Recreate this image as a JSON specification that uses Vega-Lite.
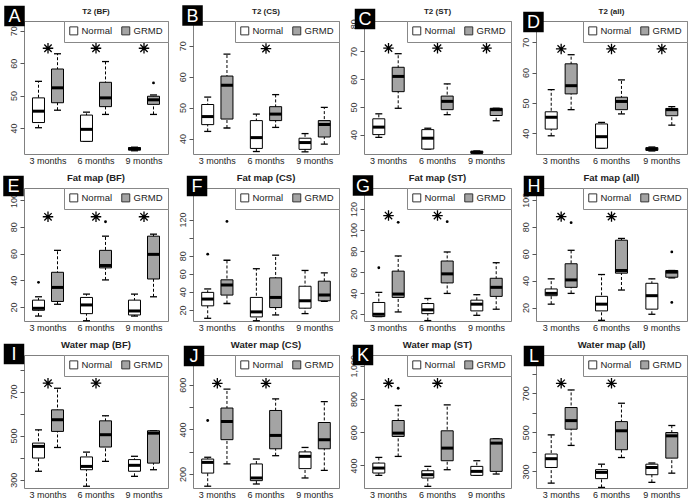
{
"$schema": "https://vega.github.io/schema/vega-lite/v6.json",
"padding": {"left": 2, "top": 4, "right": 2, "bottom": 2},
"bounds": "flush",
"columns": 4,
"spacing": {"row": 34, "column": 25},
"resolve": {"scale": {"fill": "independent", "xOffset": "independent", "x": "independent", "y": "independent"}},
"config": {
  "font": "Liberation Sans",
  "view": {"stroke": "#808080", "strokeWidth": 1},
  "axis": {"labelColor": "#333", "tickColor": "#555", "domain": false, "grid": false},
  "axisY": {"labelAngle": 270, "labelAlign": "center", "labelBaseline": "bottom", "tickSize": 4, "labelPadding": 2, "labelFontSize": 9, "labelOverlap": false, "labelFlush": false, "tickCount": 20},
  "axisX": {"ticks": false, "labelAngle": 0, "labelPadding": 2, "labelFontSize": 9, "labelColor": "#222", "labelOverlap": false},
  "legend": {"orient": "top-right", "offset": 0, "direction": "horizontal", "padding": 5, "fillColor": "white", "strokeColor": "#888", "symbolType": "square", "symbolSize": 64, "symbolStrokeColor": "#333", "symbolStrokeWidth": 1, "labelFontSize": 9.5, "columnPadding": 6, "labelOffset": 3, "labelColor": "#222"}
},
"datasets": {
"boxes": [
{"panel":"A","month":"3 months","group":"Normal","min":40.1,"q1":41.7,"med":45.2,"q3":49.3,"max":54.4},
{"panel":"A","month":"3 months","group":"GRMD","min":45.5,"q1":47.8,"med":52.4,"q3":58.2,"max":62.9},
{"panel":"A","month":"6 months","group":"Normal","min":35.9,"q1":35.9,"med":39.6,"q3":44.0,"max":44.9},
{"panel":"A","month":"6 months","group":"GRMD","min":44.2,"q1":46.6,"med":49.3,"q3":54.1,"max":60.5},
{"panel":"A","month":"9 months","group":"Normal","min":33.0,"q1":33.2,"med":33.6,"q3":34.0,"max":34.1},
{"panel":"A","month":"9 months","group":"GRMD","min":44.2,"q1":47.3,"med":48.7,"q3":49.8,"max":50.2},
{"panel":"B","month":"3 months","group":"Normal","min":42.3,"q1":44.5,"med":47.1,"q3":51.0,"max":53.4},
{"panel":"B","month":"3 months","group":"GRMD","min":43.4,"q1":46.3,"med":57.2,"q3":60.2,"max":67.3},
{"panel":"B","month":"6 months","group":"Normal","min":35.8,"q1":36.8,"med":40.3,"q3":45.8,"max":47.9},
{"panel":"B","month":"6 months","group":"GRMD","min":43.6,"q1":45.8,"med":47.9,"q3":50.3,"max":54.2},
{"panel":"B","month":"9 months","group":"Normal","min":35.7,"q1":36.5,"med":38.7,"q3":40.1,"max":41.6},
{"panel":"B","month":"9 months","group":"GRMD","min":38.2,"q1":40.5,"med":44.5,"q3":45.8,"max":50.1},
{"panel":"C","month":"3 months","group":"Normal","min":39.0,"q1":40.0,"med":42.7,"q3":45.7,"max":47.5},
{"panel":"C","month":"3 months","group":"GRMD","min":49.5,"q1":55.5,"med":61.0,"q3":64.3,"max":69.2},
{"panel":"C","month":"6 months","group":"Normal","min":34.8,"q1":34.8,"med":38.7,"q3":41.8,"max":42.3},
{"panel":"C","month":"6 months","group":"GRMD","min":47.2,"q1":49.0,"med":52.0,"q3":53.9,"max":58.3},
{"panel":"C","month":"9 months","group":"Normal","min":33.2,"q1":33.3,"med":33.6,"q3":34.0,"max":34.1},
{"panel":"C","month":"9 months","group":"GRMD","min":45.0,"q1":46.9,"med":49.0,"q3":49.5,"max":49.5},
{"panel":"D","month":"3 months","group":"Normal","min":39.2,"q1":41.4,"med":45.3,"q3":47.1,"max":54.4},
{"panel":"D","month":"3 months","group":"GRMD","min":47.8,"q1":53.0,"med":55.7,"q3":62.9,"max":65.9},
{"panel":"D","month":"6 months","group":"Normal","min":35.1,"q1":35.1,"med":38.9,"q3":43.1,"max":43.6},
{"panel":"D","month":"6 months","group":"GRMD","min":46.4,"q1":47.8,"med":50.5,"q3":51.9,"max":57.6},
{"panel":"D","month":"9 months","group":"Normal","min":34.2,"q1":34.4,"med":34.8,"q3":35.3,"max":35.5},
{"panel":"D","month":"9 months","group":"GRMD","min":42.7,"q1":45.8,"med":47.8,"q3":48.2,"max":48.8},
{"panel":"E","month":"3 months","group":"Normal","min":13.3,"q1":17.6,"med":19.1,"q3":25.2,"max":27.7},
{"panel":"E","month":"3 months","group":"GRMD","min":22.1,"q1":24.2,"med":34.7,"q3":46.0,"max":62.4},
{"panel":"E","month":"6 months","group":"Normal","min":9.8,"q1":15.1,"med":21.6,"q3":27.2,"max":29.7},
{"panel":"E","month":"6 months","group":"GRMD","min":40.3,"q1":49.3,"med":51.1,"q3":62.4,"max":73.0},
{"panel":"E","month":"9 months","group":"Normal","min":13.3,"q1":14.1,"med":17.1,"q3":25.2,"max":29.7},
{"panel":"E","month":"9 months","group":"GRMD","min":27.7,"q1":41.0,"med":59.4,"q3":73.0,"max":74.5},
{"panel":"F","month":"3 months","group":"Normal","min":10.7,"q1":24.5,"med":32.0,"q3":39.4,"max":43.2},
{"panel":"F","month":"3 months","group":"GRMD","min":27.1,"q1":36.4,"med":47.7,"q3":53.3,"max":75.0},
{"panel":"F","month":"6 months","group":"Normal","min":8.0,"q1":12.2,"med":17.8,"q3":33.8,"max":65.6},
{"panel":"F","month":"6 months","group":"GRMD","min":14.4,"q1":22.6,"med":33.8,"q3":55.5,"max":80.6},
{"panel":"F","month":"9 months","group":"Normal","min":15.9,"q1":21.9,"med":30.1,"q3":46.2,"max":63.7},
{"panel":"F","month":"9 months","group":"GRMD","min":29.5,"q1":30.1,"med":36.4,"q3":51.8,"max":61.1},
{"panel":"G","month":"3 months","group":"Normal","min":17.8,"q1":17.8,"med":20.0,"q3":31.2,"max":40.8},
{"panel":"G","month":"3 months","group":"GRMD","min":22.2,"q1":36.0,"med":39.2,"q3":61.0,"max":75.4},
{"panel":"G","month":"6 months","group":"Normal","min":14.0,"q1":20.6,"med":24.2,"q3":30.2,"max":35.0},
{"panel":"G","month":"6 months","group":"GRMD","min":39.8,"q1":49.8,"med":58.4,"q3":70.6,"max":79.2},
{"panel":"G","month":"9 months","group":"Normal","min":19.0,"q1":23.2,"med":29.6,"q3":33.4,"max":38.6},
{"panel":"G","month":"9 months","group":"GRMD","min":24.8,"q1":37.0,"med":45.6,"q3":54.2,"max":69.0},
{"panel":"H","month":"3 months","group":"Normal","min":22.5,"q1":28.8,"med":30.5,"q3":33.8,"max":41.3},
{"panel":"H","month":"3 months","group":"GRMD","min":30.5,"q1":35.0,"med":40.5,"q3":52.5,"max":62.5},
{"panel":"H","month":"6 months","group":"Normal","min":10.5,"q1":17.5,"med":22.5,"q3":28.3,"max":44.5},
{"panel":"H","month":"6 months","group":"GRMD","min":33.0,"q1":45.5,"med":47.5,"q3":70.0,"max":71.3},
{"panel":"H","month":"9 months","group":"Normal","min":15.0,"q1":18.8,"med":28.8,"q3":38.0,"max":41.3},
{"panel":"H","month":"9 months","group":"GRMD","min":42.0,"q1":42.5,"med":46.3,"q3":47.5,"max":47.5},
{"panel":"I","month":"3 months","group":"Normal","min":338,"q1":398,"med":451,"q3":466,"max":526},
{"panel":"I","month":"3 months","group":"GRMD","min":446,"q1":519,"med":572,"q3":617,"max":715},
{"panel":"I","month":"6 months","group":"Normal","min":270,"q1":345,"med":360,"q3":403,"max":425},
{"panel":"I","month":"6 months","group":"GRMD","min":383,"q1":448,"med":504,"q3":567,"max":590},
{"panel":"I","month":"9 months","group":"Normal","min":315,"q1":338,"med":365,"q3":391,"max":406},
{"panel":"I","month":"9 months","group":"GRMD","min":345,"q1":375,"med":511,"q3":522,"max":522},
{"panel":"J","month":"3 months","group":"Normal","min":145,"q1":204,"med":252,"q3":267,"max":275},
{"panel":"J","month":"3 months","group":"GRMD","min":245,"q1":354,"med":436,"q3":496,"max":581},
{"panel":"J","month":"6 months","group":"Normal","min":155,"q1":170,"med":182,"q3":245,"max":267},
{"panel":"J","month":"6 months","group":"GRMD","min":282,"q1":313,"med":373,"q3":485,"max":537},
{"panel":"J","month":"9 months","group":"Normal","min":182,"q1":224,"med":279,"q3":299,"max":319},
{"panel":"J","month":"9 months","group":"GRMD","min":216,"q1":313,"med":354,"q3":431,"max":525},
{"panel":"K","month":"3 months","group":"Normal","min":340,"q1":354,"med":384,"q3":414,"max":448},
{"panel":"K","month":"3 months","group":"GRMD","min":454,"q1":574,"med":594,"q3":670,"max":760},
{"panel":"K","month":"6 months","group":"Normal","min":274,"q1":324,"med":344,"q3":368,"max":394},
{"panel":"K","month":"6 months","group":"GRMD","min":374,"q1":428,"med":504,"q3":608,"max":764},
{"panel":"K","month":"9 months","group":"Normal","min":340,"q1":340,"med":364,"q3":394,"max":428},
{"panel":"K","month":"9 months","group":"GRMD","min":348,"q1":364,"med":534,"q3":560,"max":560},
{"panel":"L","month":"3 months","group":"Normal","min":240,"q1":320,"med":365,"q3":389,"max":487},
{"panel":"L","month":"3 months","group":"GRMD","min":433,"q1":516,"med":560,"q3":627,"max":717},
{"panel":"L","month":"6 months","group":"Normal","min":218,"q1":263,"med":295,"q3":309,"max":337},
{"panel":"L","month":"6 months","group":"GRMD","min":371,"q1":411,"med":508,"q3":555,"max":649},
{"panel":"L","month":"9 months","group":"Normal","min":244,"q1":283,"med":320,"q3":337,"max":343},
{"panel":"L","month":"9 months","group":"GRMD","min":291,"q1":368,"med":482,"q3":499,"max":535}
],
"outliers": [
{"panel":"A","month":"9 months","group":"GRMD","v":53.9},
{"panel":"E","month":"3 months","group":"Normal","v":38.5},
{"panel":"E","month":"6 months","group":"GRMD","v":83.8},
{"panel":"F","month":"3 months","group":"Normal","v":81.7},
{"panel":"F","month":"3 months","group":"GRMD","v":118},
{"panel":"G","month":"3 months","group":"Normal","v":64.2},
{"panel":"G","month":"3 months","group":"GRMD","v":107.4},
{"panel":"G","month":"6 months","group":"GRMD","v":108},
{"panel":"H","month":"3 months","group":"GRMD","v":83},
{"panel":"H","month":"9 months","group":"GRMD","v":61.3},
{"panel":"H","month":"9 months","group":"GRMD","v":23.8},
{"panel":"J","month":"3 months","group":"Normal","v":440},
{"panel":"K","month":"3 months","group":"GRMD","v":864}
],
"stars": [
{"panel":"A","month":"3 months","v":64.6},{"panel":"A","month":"6 months","v":64.6},{"panel":"A","month":"9 months","v":64.6},
{"panel":"B","month":"6 months","v":69.1},
{"panel":"C","month":"3 months","v":71.2},{"panel":"C","month":"6 months","v":71.2},{"panel":"C","month":"9 months","v":71.2},
{"panel":"D","month":"3 months","v":67.8},{"panel":"D","month":"6 months","v":67.8},{"panel":"D","month":"9 months","v":67.8},
{"panel":"E","month":"3 months","v":87.5},{"panel":"E","month":"6 months","v":87.5},{"panel":"E","month":"9 months","v":87.5},
{"panel":"G","month":"3 months","v":113.8},{"panel":"G","month":"6 months","v":113.8},
{"panel":"H","month":"3 months","v":87.5},{"panel":"H","month":"6 months","v":87.5},
{"panel":"I","month":"3 months","v":738},{"panel":"I","month":"6 months","v":738},
{"panel":"J","month":"3 months","v":607},{"panel":"J","month":"6 months","v":607},
{"panel":"K","month":"3 months","v":894},{"panel":"K","month":"6 months","v":894},
{"panel":"L","month":"3 months","v":751},{"panel":"L","month":"6 months","v":751}
]
},
"concat": [
{"width":144,"height":133,
 "data":{"name":"boxes"},"transform":[{"filter":"datum.panel == 'A'"}],
 "encoding":{"x":{"field":"month","type":"ordinal","title":null,"scale":{"domain":["3 months","6 months","9 months"],"paddingInner":0,"paddingOuter":0}}},
 "layer":[
  {"mark":{"type":"rule","strokeDash":[3,2],"color":"black"},"encoding":{"xOffset":{"field":"group","type":"nominal","scale":{"domain":["Normal","GRMD"],"paddingInner":0,"paddingOuter":0.263}},"y":{"field":"min","type":"quantitative","title":null,"scale":{"domain":[32,73],"nice":false,"zero":false},"axis":{"values":[40,50,60,70],"tickCount":20,"labelOverlap":false}},"y2":{"field":"max"}}},
  {"mark":{"type":"tick","size":7,"thickness":1.3,"color":"black","opacity":1},"encoding":{"xOffset":{"field":"group","type":"nominal"},"y":{"field":"min","type":"quantitative","title":null}}},
  {"mark":{"type":"tick","size":7,"thickness":1.3,"color":"black","opacity":1},"encoding":{"xOffset":{"field":"group","type":"nominal"},"y":{"field":"max","type":"quantitative","title":null}}},
  {"mark":{"type":"bar","width":12,"stroke":"black","strokeWidth":1},"encoding":{"xOffset":{"field":"group","type":"nominal"},"y":{"field":"q1","type":"quantitative","title":null},"y2":{"field":"q3"},"fill":{"field":"group","type":"nominal","title":null,"scale":{"domain":["Normal","GRMD"],"range":["white","#a4a4a4"]},"legend":{"title":null}}}},
  {"mark":{"type":"tick","size":12,"thickness":3,"color":"black","opacity":1},"encoding":{"xOffset":{"field":"group","type":"nominal"},"y":{"field":"med","type":"quantitative","title":null}}},
  {"data":{"name":"outliers"},"transform":[{"filter":"datum.panel == 'A'"}],"mark":{"type":"point","filled":true,"size":8,"color":"black","opacity":1},"encoding":{"xOffset":{"field":"group","type":"nominal"},"y":{"field":"v","type":"quantitative","title":null}}},
  {"data":{"name":"stars"},"transform":[{"filter":"datum.panel == 'A'"}],"mark":{"type":"point","shape":"M-1,0L1,0M0,-1L0,1M-0.7,-0.7L0.7,0.7M-0.7,0.7L0.7,-0.7","filled":false,"size":110,"stroke":"black","strokeWidth":1.3,"opacity":1},"encoding":{"y":{"field":"v","type":"quantitative","title":null}}},
  {"data":{"values":[{"t":"T2 (BF)"}]},"mark":{"type":"text","fontWeight":"bold","fontSize":8,"color":"#222","baseline":"middle","yOffset":-9},"encoding":{"x":{"datum":"6 months","type":"ordinal"},"y":{"datum":73,"type":"quantitative"},"text":{"field":"t"}}},
  {"data":{"values":[{"letter":"A"}]},"mark":{"type":"point","shape":"square","size":420,"filled":true,"color":"black","opacity":1,"xOffset":-33.5,"yOffset":-5},"encoding":{"x":{"datum":"3 months","type":"ordinal"},"y":{"datum":73,"type":"quantitative"}}},
  {"data":{"values":[{"letter":"A"}]},"mark":{"type":"text","color":"white","fontSize":18,"align":"center","baseline":"middle","xOffset":-33.5,"yOffset":-4},"encoding":{"x":{"datum":"3 months","type":"ordinal"},"y":{"datum":73,"type":"quantitative"},"text":{"field":"letter"}}}
 ]},
{"width":146,"height":133,
 "data":{"name":"boxes"},"transform":[{"filter":"datum.panel == 'B'"}],
 "encoding":{"x":{"field":"month","type":"ordinal","title":null,"scale":{"domain":["3 months","6 months","9 months"],"paddingInner":0,"paddingOuter":0}}},
 "layer":[
  {"mark":{"type":"rule","strokeDash":[3,2],"color":"black"},"encoding":{"xOffset":{"field":"group","type":"nominal","scale":{"domain":["Normal","GRMD"],"paddingInner":0,"paddingOuter":0.263}},"y":{"field":"min","type":"quantitative","title":null,"scale":{"domain":[35,78],"nice":false,"zero":false},"axis":{"values":[40,50,60,70],"tickCount":20,"labelOverlap":false}},"y2":{"field":"max"}}},
  {"mark":{"type":"tick","size":7,"thickness":1.3,"color":"black","opacity":1},"encoding":{"xOffset":{"field":"group","type":"nominal"},"y":{"field":"min","type":"quantitative","title":null}}},
  {"mark":{"type":"tick","size":7,"thickness":1.3,"color":"black","opacity":1},"encoding":{"xOffset":{"field":"group","type":"nominal"},"y":{"field":"max","type":"quantitative","title":null}}},
  {"mark":{"type":"bar","width":12,"stroke":"black","strokeWidth":1},"encoding":{"xOffset":{"field":"group","type":"nominal"},"y":{"field":"q1","type":"quantitative","title":null},"y2":{"field":"q3"},"fill":{"field":"group","type":"nominal","title":null,"scale":{"domain":["Normal","GRMD"],"range":["white","#a4a4a4"]},"legend":{"title":null}}}},
  {"mark":{"type":"tick","size":12,"thickness":3,"color":"black","opacity":1},"encoding":{"xOffset":{"field":"group","type":"nominal"},"y":{"field":"med","type":"quantitative","title":null}}},
  {"data":{"name":"outliers"},"transform":[{"filter":"datum.panel == 'B'"}],"mark":{"type":"point","filled":true,"size":8,"color":"black","opacity":1},"encoding":{"xOffset":{"field":"group","type":"nominal"},"y":{"field":"v","type":"quantitative","title":null}}},
  {"data":{"name":"stars"},"transform":[{"filter":"datum.panel == 'B'"}],"mark":{"type":"point","shape":"M-1,0L1,0M0,-1L0,1M-0.7,-0.7L0.7,0.7M-0.7,0.7L0.7,-0.7","filled":false,"size":110,"stroke":"black","strokeWidth":1.3,"opacity":1},"encoding":{"y":{"field":"v","type":"quantitative","title":null}}},
  {"data":{"values":[{"t":"T2 (CS)"}]},"mark":{"type":"text","fontWeight":"bold","fontSize":8,"color":"#222","baseline":"middle","yOffset":-9},"encoding":{"x":{"datum":"6 months","type":"ordinal"},"y":{"datum":78,"type":"quantitative"},"text":{"field":"t"}}},
  {"data":{"values":[{"letter":"B"}]},"mark":{"type":"point","shape":"square","size":420,"filled":true,"color":"black","opacity":1,"xOffset":-24.8,"yOffset":-5.5},"encoding":{"x":{"datum":"3 months","type":"ordinal"},"y":{"datum":78,"type":"quantitative"}}},
  {"data":{"values":[{"letter":"B"}]},"mark":{"type":"text","color":"white","fontSize":18,"align":"center","baseline":"middle","xOffset":-24.8,"yOffset":-4.5},"encoding":{"x":{"datum":"3 months","type":"ordinal"},"y":{"datum":78,"type":"quantitative"},"text":{"field":"letter"}}}
 ]},
{"width":147,"height":133,
 "data":{"name":"boxes"},"transform":[{"filter":"datum.panel == 'C'"}],
 "encoding":{"x":{"field":"month","type":"ordinal","title":null,"scale":{"domain":["3 months","6 months","9 months"],"paddingInner":0,"paddingOuter":0}}},
 "layer":[
  {"mark":{"type":"rule","strokeDash":[3,2],"color":"black"},"encoding":{"xOffset":{"field":"group","type":"nominal","scale":{"domain":["Normal","GRMD"],"paddingInner":0,"paddingOuter":0.263}},"y":{"field":"min","type":"quantitative","title":null,"scale":{"domain":[33,81],"nice":false,"zero":false},"axis":{"values":[40,50,60,70,80],"tickCount":20,"labelOverlap":false}},"y2":{"field":"max"}}},
  {"mark":{"type":"tick","size":7,"thickness":1.3,"color":"black","opacity":1},"encoding":{"xOffset":{"field":"group","type":"nominal"},"y":{"field":"min","type":"quantitative","title":null}}},
  {"mark":{"type":"tick","size":7,"thickness":1.3,"color":"black","opacity":1},"encoding":{"xOffset":{"field":"group","type":"nominal"},"y":{"field":"max","type":"quantitative","title":null}}},
  {"mark":{"type":"bar","width":12,"stroke":"black","strokeWidth":1},"encoding":{"xOffset":{"field":"group","type":"nominal"},"y":{"field":"q1","type":"quantitative","title":null},"y2":{"field":"q3"},"fill":{"field":"group","type":"nominal","title":null,"scale":{"domain":["Normal","GRMD"],"range":["white","#a4a4a4"]},"legend":{"title":null}}}},
  {"mark":{"type":"tick","size":12,"thickness":3,"color":"black","opacity":1},"encoding":{"xOffset":{"field":"group","type":"nominal"},"y":{"field":"med","type":"quantitative","title":null}}},
  {"data":{"name":"outliers"},"transform":[{"filter":"datum.panel == 'C'"}],"mark":{"type":"point","filled":true,"size":8,"color":"black","opacity":1},"encoding":{"xOffset":{"field":"group","type":"nominal"},"y":{"field":"v","type":"quantitative","title":null}}},
  {"data":{"name":"stars"},"transform":[{"filter":"datum.panel == 'C'"}],"mark":{"type":"point","shape":"M-1,0L1,0M0,-1L0,1M-0.7,-0.7L0.7,0.7M-0.7,0.7L0.7,-0.7","filled":false,"size":110,"stroke":"black","strokeWidth":1.3,"opacity":1},"encoding":{"y":{"field":"v","type":"quantitative","title":null}}},
  {"data":{"values":[{"t":"T2 (ST)"}]},"mark":{"type":"text","fontWeight":"bold","fontSize":8,"color":"#222","baseline":"middle","yOffset":-9},"encoding":{"x":{"datum":"6 months","type":"ordinal"},"y":{"datum":81,"type":"quantitative"},"text":{"field":"t"}}},
  {"data":{"values":[{"letter":"C"}]},"mark":{"type":"point","shape":"square","size":420,"filled":true,"color":"black","opacity":1,"xOffset":-23.5,"yOffset":-2},"encoding":{"x":{"datum":"3 months","type":"ordinal"},"y":{"datum":81,"type":"quantitative"}}},
  {"data":{"values":[{"letter":"C"}]},"mark":{"type":"text","color":"white","fontSize":18,"align":"center","baseline":"middle","xOffset":-23.5,"yOffset":-1},"encoding":{"x":{"datum":"3 months","type":"ordinal"},"y":{"datum":81,"type":"quantitative"},"text":{"field":"letter"}}}
 ]},
{"width":151,"height":133,
 "data":{"name":"boxes"},"transform":[{"filter":"datum.panel == 'D'"}],
 "encoding":{"x":{"field":"month","type":"ordinal","title":null,"scale":{"domain":["3 months","6 months","9 months"],"paddingInner":0,"paddingOuter":0}}},
 "layer":[
  {"mark":{"type":"rule","strokeDash":[3,2],"color":"black"},"encoding":{"xOffset":{"field":"group","type":"nominal","scale":{"domain":["Normal","GRMD"],"paddingInner":0,"paddingOuter":0.263}},"y":{"field":"min","type":"quantitative","title":null,"scale":{"domain":[33.2,77],"nice":false,"zero":false},"axis":{"values":[40,50,60,70],"tickCount":20,"labelOverlap":false}},"y2":{"field":"max"}}},
  {"mark":{"type":"tick","size":7,"thickness":1.3,"color":"black","opacity":1},"encoding":{"xOffset":{"field":"group","type":"nominal"},"y":{"field":"min","type":"quantitative","title":null}}},
  {"mark":{"type":"tick","size":7,"thickness":1.3,"color":"black","opacity":1},"encoding":{"xOffset":{"field":"group","type":"nominal"},"y":{"field":"max","type":"quantitative","title":null}}},
  {"mark":{"type":"bar","width":12,"stroke":"black","strokeWidth":1},"encoding":{"xOffset":{"field":"group","type":"nominal"},"y":{"field":"q1","type":"quantitative","title":null},"y2":{"field":"q3"},"fill":{"field":"group","type":"nominal","title":null,"scale":{"domain":["Normal","GRMD"],"range":["white","#a4a4a4"]},"legend":{"title":null}}}},
  {"mark":{"type":"tick","size":12,"thickness":3,"color":"black","opacity":1},"encoding":{"xOffset":{"field":"group","type":"nominal"},"y":{"field":"med","type":"quantitative","title":null}}},
  {"data":{"name":"outliers"},"transform":[{"filter":"datum.panel == 'D'"}],"mark":{"type":"point","filled":true,"size":8,"color":"black","opacity":1},"encoding":{"xOffset":{"field":"group","type":"nominal"},"y":{"field":"v","type":"quantitative","title":null}}},
  {"data":{"name":"stars"},"transform":[{"filter":"datum.panel == 'D'"}],"mark":{"type":"point","shape":"M-1,0L1,0M0,-1L0,1M-0.7,-0.7L0.7,0.7M-0.7,0.7L0.7,-0.7","filled":false,"size":110,"stroke":"black","strokeWidth":1.3,"opacity":1},"encoding":{"y":{"field":"v","type":"quantitative","title":null}}},
  {"data":{"values":[{"t":"T2 (all)"}]},"mark":{"type":"text","fontWeight":"bold","fontSize":8,"color":"#222","baseline":"middle","yOffset":-9},"encoding":{"x":{"datum":"6 months","type":"ordinal"},"y":{"datum":77,"type":"quantitative"},"text":{"field":"t"}}},
  {"data":{"values":[{"letter":"D"}]},"mark":{"type":"point","shape":"square","size":420,"filled":true,"color":"black","opacity":1,"xOffset":-27.7,"yOffset":1},"encoding":{"x":{"datum":"3 months","type":"ordinal"},"y":{"datum":77,"type":"quantitative"}}},
  {"data":{"values":[{"letter":"D"}]},"mark":{"type":"text","color":"white","fontSize":18,"align":"center","baseline":"middle","xOffset":-27.7,"yOffset":2},"encoding":{"x":{"datum":"3 months","type":"ordinal"},"y":{"datum":77,"type":"quantitative"},"text":{"field":"letter"}}}
 ]},
{"width":144,"height":133,
 "data":{"name":"boxes"},"transform":[{"filter":"datum.panel == 'E'"}],
 "encoding":{"x":{"field":"month","type":"ordinal","title":null,"scale":{"domain":["3 months","6 months","9 months"],"paddingInner":0,"paddingOuter":0}}},
 "layer":[
  {"mark":{"type":"rule","strokeDash":[3,2],"color":"black"},"encoding":{"xOffset":{"field":"group","type":"nominal","scale":{"domain":["Normal","GRMD"],"paddingInner":0,"paddingOuter":0.263}},"y":{"field":"min","type":"quantitative","title":null,"scale":{"domain":[9.6,109],"nice":false,"zero":false},"axis":{"values":[20,40,60,80,100],"tickCount":20,"labelOverlap":false}},"y2":{"field":"max"}}},
  {"mark":{"type":"tick","size":7,"thickness":1.3,"color":"black","opacity":1},"encoding":{"xOffset":{"field":"group","type":"nominal"},"y":{"field":"min","type":"quantitative","title":null}}},
  {"mark":{"type":"tick","size":7,"thickness":1.3,"color":"black","opacity":1},"encoding":{"xOffset":{"field":"group","type":"nominal"},"y":{"field":"max","type":"quantitative","title":null}}},
  {"mark":{"type":"bar","width":12,"stroke":"black","strokeWidth":1},"encoding":{"xOffset":{"field":"group","type":"nominal"},"y":{"field":"q1","type":"quantitative","title":null},"y2":{"field":"q3"},"fill":{"field":"group","type":"nominal","title":null,"scale":{"domain":["Normal","GRMD"],"range":["white","#a4a4a4"]},"legend":{"title":null}}}},
  {"mark":{"type":"tick","size":12,"thickness":3,"color":"black","opacity":1},"encoding":{"xOffset":{"field":"group","type":"nominal"},"y":{"field":"med","type":"quantitative","title":null}}},
  {"data":{"name":"outliers"},"transform":[{"filter":"datum.panel == 'E'"}],"mark":{"type":"point","filled":true,"size":8,"color":"black","opacity":1},"encoding":{"xOffset":{"field":"group","type":"nominal"},"y":{"field":"v","type":"quantitative","title":null}}},
  {"data":{"name":"stars"},"transform":[{"filter":"datum.panel == 'E'"}],"mark":{"type":"point","shape":"M-1,0L1,0M0,-1L0,1M-0.7,-0.7L0.7,0.7M-0.7,0.7L0.7,-0.7","filled":false,"size":110,"stroke":"black","strokeWidth":1.3,"opacity":1},"encoding":{"y":{"field":"v","type":"quantitative","title":null}}},
  {"data":{"values":[{"t":"Fat map (BF)"}]},"mark":{"type":"text","fontWeight":"bold","fontSize":9.5,"color":"#222","baseline":"middle","yOffset":-10},"encoding":{"x":{"datum":"6 months","type":"ordinal"},"y":{"datum":109,"type":"quantitative"},"text":{"field":"t"}}},
  {"data":{"values":[{"letter":"E"}]},"mark":{"type":"point","shape":"square","size":420,"filled":true,"color":"black","opacity":1,"xOffset":-34.5,"yOffset":-2},"encoding":{"x":{"datum":"3 months","type":"ordinal"},"y":{"datum":109,"type":"quantitative"}}},
  {"data":{"values":[{"letter":"E"}]},"mark":{"type":"text","color":"white","fontSize":18,"align":"center","baseline":"middle","xOffset":-34.5,"yOffset":-1},"encoding":{"x":{"datum":"3 months","type":"ordinal"},"y":{"datum":109,"type":"quantitative"},"text":{"field":"letter"}}}
 ]},
{"width":146,"height":133,
 "data":{"name":"boxes"},"transform":[{"filter":"datum.panel == 'F'"}],
 "encoding":{"x":{"field":"month","type":"ordinal","title":null,"scale":{"domain":["3 months","6 months","9 months"],"paddingInner":0,"paddingOuter":0}}},
 "layer":[
  {"mark":{"type":"rule","strokeDash":[3,2],"color":"black"},"encoding":{"xOffset":{"field":"group","type":"nominal","scale":{"domain":["Normal","GRMD"],"paddingInner":0,"paddingOuter":0.263}},"y":{"field":"min","type":"quantitative","title":null,"scale":{"domain":[7.7,155],"nice":false,"zero":false},"axis":{"values":[20,40,60,80,100,120],"tickCount":20,"labelOverlap":false,"labelExpr":"datum.value == 100 ? '' : datum.label"}},"y2":{"field":"max"}}},
  {"mark":{"type":"tick","size":7,"thickness":1.3,"color":"black","opacity":1},"encoding":{"xOffset":{"field":"group","type":"nominal"},"y":{"field":"min","type":"quantitative","title":null}}},
  {"mark":{"type":"tick","size":7,"thickness":1.3,"color":"black","opacity":1},"encoding":{"xOffset":{"field":"group","type":"nominal"},"y":{"field":"max","type":"quantitative","title":null}}},
  {"mark":{"type":"bar","width":12,"stroke":"black","strokeWidth":1},"encoding":{"xOffset":{"field":"group","type":"nominal"},"y":{"field":"q1","type":"quantitative","title":null},"y2":{"field":"q3"},"fill":{"field":"group","type":"nominal","title":null,"scale":{"domain":["Normal","GRMD"],"range":["white","#a4a4a4"]},"legend":{"title":null}}}},
  {"mark":{"type":"tick","size":12,"thickness":3,"color":"black","opacity":1},"encoding":{"xOffset":{"field":"group","type":"nominal"},"y":{"field":"med","type":"quantitative","title":null}}},
  {"data":{"name":"outliers"},"transform":[{"filter":"datum.panel == 'F'"}],"mark":{"type":"point","filled":true,"size":8,"color":"black","opacity":1},"encoding":{"xOffset":{"field":"group","type":"nominal"},"y":{"field":"v","type":"quantitative","title":null}}},
  {"data":{"values":[{"t":"Fat map (CS)"}]},"mark":{"type":"text","fontWeight":"bold","fontSize":9.5,"color":"#222","baseline":"middle","yOffset":-10},"encoding":{"x":{"datum":"6 months","type":"ordinal"},"y":{"datum":155,"type":"quantitative"},"text":{"field":"t"}}},
  {"data":{"values":[{"letter":"F"}]},"mark":{"type":"point","shape":"square","size":420,"filled":true,"color":"black","opacity":1,"xOffset":-20.3,"yOffset":-2},"encoding":{"x":{"datum":"3 months","type":"ordinal"},"y":{"datum":155,"type":"quantitative"}}},
  {"data":{"values":[{"letter":"F"}]},"mark":{"type":"text","color":"white","fontSize":18,"align":"center","baseline":"middle","xOffset":-20.3,"yOffset":-1},"encoding":{"x":{"datum":"3 months","type":"ordinal"},"y":{"datum":155,"type":"quantitative"},"text":{"field":"letter"}}}
 ]},
{"width":147,"height":133,
 "data":{"name":"boxes"},"transform":[{"filter":"datum.panel == 'G'"}],
 "encoding":{"x":{"field":"month","type":"ordinal","title":null,"scale":{"domain":["3 months","6 months","9 months"],"paddingInner":0,"paddingOuter":0}}},
 "layer":[
  {"mark":{"type":"rule","strokeDash":[3,2],"color":"black"},"encoding":{"xOffset":{"field":"group","type":"nominal","scale":{"domain":["Normal","GRMD"],"paddingInner":0,"paddingOuter":0.263}},"y":{"field":"min","type":"quantitative","title":null,"scale":{"domain":[13.6,140],"nice":false,"zero":false},"axis":{"values":[20,40,60,80,100,120],"tickCount":20,"labelOverlap":false}},"y2":{"field":"max"}}},
  {"mark":{"type":"tick","size":7,"thickness":1.3,"color":"black","opacity":1},"encoding":{"xOffset":{"field":"group","type":"nominal"},"y":{"field":"min","type":"quantitative","title":null}}},
  {"mark":{"type":"tick","size":7,"thickness":1.3,"color":"black","opacity":1},"encoding":{"xOffset":{"field":"group","type":"nominal"},"y":{"field":"max","type":"quantitative","title":null}}},
  {"mark":{"type":"bar","width":12,"stroke":"black","strokeWidth":1},"encoding":{"xOffset":{"field":"group","type":"nominal"},"y":{"field":"q1","type":"quantitative","title":null},"y2":{"field":"q3"},"fill":{"field":"group","type":"nominal","title":null,"scale":{"domain":["Normal","GRMD"],"range":["white","#a4a4a4"]},"legend":{"title":null}}}},
  {"mark":{"type":"tick","size":12,"thickness":3,"color":"black","opacity":1},"encoding":{"xOffset":{"field":"group","type":"nominal"},"y":{"field":"med","type":"quantitative","title":null}}},
  {"data":{"name":"outliers"},"transform":[{"filter":"datum.panel == 'G'"}],"mark":{"type":"point","filled":true,"size":8,"color":"black","opacity":1},"encoding":{"xOffset":{"field":"group","type":"nominal"},"y":{"field":"v","type":"quantitative","title":null}}},
  {"data":{"name":"stars"},"transform":[{"filter":"datum.panel == 'G'"}],"mark":{"type":"point","shape":"M-1,0L1,0M0,-1L0,1M-0.7,-0.7L0.7,0.7M-0.7,0.7L0.7,-0.7","filled":false,"size":110,"stroke":"black","strokeWidth":1.3,"opacity":1},"encoding":{"y":{"field":"v","type":"quantitative","title":null}}},
  {"data":{"values":[{"t":"Fat map (ST)"}]},"mark":{"type":"text","fontWeight":"bold","fontSize":9.5,"color":"#222","baseline":"middle","yOffset":-10},"encoding":{"x":{"datum":"6 months","type":"ordinal"},"y":{"datum":140,"type":"quantitative"},"text":{"field":"t"}}},
  {"data":{"values":[{"letter":"G"}]},"mark":{"type":"point","shape":"square","size":420,"filled":true,"color":"black","opacity":1,"xOffset":-25.5,"yOffset":-2.5},"encoding":{"x":{"datum":"3 months","type":"ordinal"},"y":{"datum":140,"type":"quantitative"}}},
  {"data":{"values":[{"letter":"G"}]},"mark":{"type":"text","color":"white","fontSize":18,"align":"center","baseline":"middle","xOffset":-25.5,"yOffset":-1.5},"encoding":{"x":{"datum":"3 months","type":"ordinal"},"y":{"datum":140,"type":"quantitative"},"text":{"field":"letter"}}}
 ]},
{"width":151,"height":133,
 "data":{"name":"boxes"},"transform":[{"filter":"datum.panel == 'H'"}],
 "encoding":{"x":{"field":"month","type":"ordinal","title":null,"scale":{"domain":["3 months","6 months","9 months"],"paddingInner":0,"paddingOuter":0}}},
 "layer":[
  {"mark":{"type":"rule","strokeDash":[3,2],"color":"black"},"encoding":{"xOffset":{"field":"group","type":"nominal","scale":{"domain":["Normal","GRMD"],"paddingInner":0,"paddingOuter":0.263}},"y":{"field":"min","type":"quantitative","title":null,"scale":{"domain":[10,108.75],"nice":false,"zero":false},"axis":{"values":[20,40,60,80,100],"tickCount":20,"labelOverlap":false}},"y2":{"field":"max"}}},
  {"mark":{"type":"tick","size":7,"thickness":1.3,"color":"black","opacity":1},"encoding":{"xOffset":{"field":"group","type":"nominal"},"y":{"field":"min","type":"quantitative","title":null}}},
  {"mark":{"type":"tick","size":7,"thickness":1.3,"color":"black","opacity":1},"encoding":{"xOffset":{"field":"group","type":"nominal"},"y":{"field":"max","type":"quantitative","title":null}}},
  {"mark":{"type":"bar","width":12,"stroke":"black","strokeWidth":1},"encoding":{"xOffset":{"field":"group","type":"nominal"},"y":{"field":"q1","type":"quantitative","title":null},"y2":{"field":"q3"},"fill":{"field":"group","type":"nominal","title":null,"scale":{"domain":["Normal","GRMD"],"range":["white","#a4a4a4"]},"legend":{"title":null}}}},
  {"mark":{"type":"tick","size":12,"thickness":3,"color":"black","opacity":1},"encoding":{"xOffset":{"field":"group","type":"nominal"},"y":{"field":"med","type":"quantitative","title":null}}},
  {"data":{"name":"outliers"},"transform":[{"filter":"datum.panel == 'H'"}],"mark":{"type":"point","filled":true,"size":8,"color":"black","opacity":1},"encoding":{"xOffset":{"field":"group","type":"nominal"},"y":{"field":"v","type":"quantitative","title":null}}},
  {"data":{"name":"stars"},"transform":[{"filter":"datum.panel == 'H'"}],"mark":{"type":"point","shape":"M-1,0L1,0M0,-1L0,1M-0.7,-0.7L0.7,0.7M-0.7,0.7L0.7,-0.7","filled":false,"size":110,"stroke":"black","strokeWidth":1.3,"opacity":1},"encoding":{"y":{"field":"v","type":"quantitative","title":null}}},
  {"data":{"values":[{"t":"Fat map (all)"}]},"mark":{"type":"text","fontWeight":"bold","fontSize":9.5,"color":"#222","baseline":"middle","yOffset":-10},"encoding":{"x":{"datum":"6 months","type":"ordinal"},"y":{"datum":108.75,"type":"quantitative"},"text":{"field":"t"}}},
  {"data":{"values":[{"letter":"H"}]},"mark":{"type":"point","shape":"square","size":420,"filled":true,"color":"black","opacity":1,"xOffset":-27.2,"yOffset":-2},"encoding":{"x":{"datum":"3 months","type":"ordinal"},"y":{"datum":108.75,"type":"quantitative"}}},
  {"data":{"values":[{"letter":"H"}]},"mark":{"type":"text","color":"white","fontSize":18,"align":"center","baseline":"middle","xOffset":-27.2,"yOffset":-1},"encoding":{"x":{"datum":"3 months","type":"ordinal"},"y":{"datum":108.75,"type":"quantitative"},"text":{"field":"letter"}}}
 ]},
{"width":144,"height":133,
 "data":{"name":"boxes"},"transform":[{"filter":"datum.panel == 'I'"}],
 "encoding":{"x":{"field":"month","type":"ordinal","title":null,"scale":{"domain":["3 months","6 months","9 months"],"paddingInner":0,"paddingOuter":0}}},
 "layer":[
  {"mark":{"type":"rule","strokeDash":[3,2],"color":"black"},"encoding":{"xOffset":{"field":"group","type":"nominal","scale":{"domain":["Normal","GRMD"],"paddingInner":0,"paddingOuter":0.263}},"y":{"field":"min","type":"quantitative","title":null,"scale":{"domain":[262,866],"nice":false,"zero":false},"axis":{"values":[300,400,500,600,700,800],"tickCount":20,"labelOverlap":false,"labelExpr":"(datum.value == 400 || datum.value == 600 || datum.value == 800) ? '' : datum.label"}},"y2":{"field":"max"}}},
  {"mark":{"type":"tick","size":7,"thickness":1.3,"color":"black","opacity":1},"encoding":{"xOffset":{"field":"group","type":"nominal"},"y":{"field":"min","type":"quantitative","title":null}}},
  {"mark":{"type":"tick","size":7,"thickness":1.3,"color":"black","opacity":1},"encoding":{"xOffset":{"field":"group","type":"nominal"},"y":{"field":"max","type":"quantitative","title":null}}},
  {"mark":{"type":"bar","width":12,"stroke":"black","strokeWidth":1},"encoding":{"xOffset":{"field":"group","type":"nominal"},"y":{"field":"q1","type":"quantitative","title":null},"y2":{"field":"q3"},"fill":{"field":"group","type":"nominal","title":null,"scale":{"domain":["Normal","GRMD"],"range":["white","#a4a4a4"]},"legend":{"title":null}}}},
  {"mark":{"type":"tick","size":12,"thickness":3,"color":"black","opacity":1},"encoding":{"xOffset":{"field":"group","type":"nominal"},"y":{"field":"med","type":"quantitative","title":null}}},
  {"data":{"name":"outliers"},"transform":[{"filter":"datum.panel == 'I'"}],"mark":{"type":"point","filled":true,"size":8,"color":"black","opacity":1},"encoding":{"xOffset":{"field":"group","type":"nominal"},"y":{"field":"v","type":"quantitative","title":null}}},
  {"data":{"name":"stars"},"transform":[{"filter":"datum.panel == 'I'"}],"mark":{"type":"point","shape":"M-1,0L1,0M0,-1L0,1M-0.7,-0.7L0.7,0.7M-0.7,0.7L0.7,-0.7","filled":false,"size":110,"stroke":"black","strokeWidth":1.3,"opacity":1},"encoding":{"y":{"field":"v","type":"quantitative","title":null}}},
  {"data":{"values":[{"t":"Water map (BF)"}]},"mark":{"type":"text","fontWeight":"bold","fontSize":9.5,"color":"#222","baseline":"middle","yOffset":-10},"encoding":{"x":{"datum":"6 months","type":"ordinal"},"y":{"datum":866,"type":"quantitative"},"text":{"field":"t"}}},
  {"data":{"values":[{"letter":"I"}]},"mark":{"type":"point","shape":"square","size":420,"filled":true,"color":"black","opacity":1,"xOffset":-34,"yOffset":-1},"encoding":{"x":{"datum":"3 months","type":"ordinal"},"y":{"datum":866,"type":"quantitative"}}},
  {"data":{"values":[{"letter":"I"}]},"mark":{"type":"text","color":"white","fontSize":18,"align":"center","baseline":"middle","xOffset":-34,"yOffset":0},"encoding":{"x":{"datum":"3 months","type":"ordinal"},"y":{"datum":866,"type":"quantitative"},"text":{"field":"letter"}}}
 ]},
{"width":146,"height":133,
 "data":{"name":"boxes"},"transform":[{"filter":"datum.panel == 'J'"}],
 "encoding":{"x":{"field":"month","type":"ordinal","title":null,"scale":{"domain":["3 months","6 months","9 months"],"paddingInner":0,"paddingOuter":0}}},
 "layer":[
  {"mark":{"type":"rule","strokeDash":[3,2],"color":"black"},"encoding":{"xOffset":{"field":"group","type":"nominal","scale":{"domain":["Normal","GRMD"],"paddingInner":0,"paddingOuter":0.263}},"y":{"field":"min","type":"quantitative","title":null,"scale":{"domain":[137,734],"nice":false,"zero":false},"axis":{"values":[200,300,400,500,600,700],"tickCount":20,"labelOverlap":false,"labelExpr":"(datum.value == 300 || datum.value == 500 || datum.value == 700) ? '' : datum.label"}},"y2":{"field":"max"}}},
  {"mark":{"type":"tick","size":7,"thickness":1.3,"color":"black","opacity":1},"encoding":{"xOffset":{"field":"group","type":"nominal"},"y":{"field":"min","type":"quantitative","title":null}}},
  {"mark":{"type":"tick","size":7,"thickness":1.3,"color":"black","opacity":1},"encoding":{"xOffset":{"field":"group","type":"nominal"},"y":{"field":"max","type":"quantitative","title":null}}},
  {"mark":{"type":"bar","width":12,"stroke":"black","strokeWidth":1},"encoding":{"xOffset":{"field":"group","type":"nominal"},"y":{"field":"q1","type":"quantitative","title":null},"y2":{"field":"q3"},"fill":{"field":"group","type":"nominal","title":null,"scale":{"domain":["Normal","GRMD"],"range":["white","#a4a4a4"]},"legend":{"title":null}}}},
  {"mark":{"type":"tick","size":12,"thickness":3,"color":"black","opacity":1},"encoding":{"xOffset":{"field":"group","type":"nominal"},"y":{"field":"med","type":"quantitative","title":null}}},
  {"data":{"name":"outliers"},"transform":[{"filter":"datum.panel == 'J'"}],"mark":{"type":"point","filled":true,"size":8,"color":"black","opacity":1},"encoding":{"xOffset":{"field":"group","type":"nominal"},"y":{"field":"v","type":"quantitative","title":null}}},
  {"data":{"name":"stars"},"transform":[{"filter":"datum.panel == 'J'"}],"mark":{"type":"point","shape":"M-1,0L1,0M0,-1L0,1M-0.7,-0.7L0.7,0.7M-0.7,0.7L0.7,-0.7","filled":false,"size":110,"stroke":"black","strokeWidth":1.3,"opacity":1},"encoding":{"y":{"field":"v","type":"quantitative","title":null}}},
  {"data":{"values":[{"t":"Water map (CS)"}]},"mark":{"type":"text","fontWeight":"bold","fontSize":9.5,"color":"#222","baseline":"middle","yOffset":-10},"encoding":{"x":{"datum":"6 months","type":"ordinal"},"y":{"datum":734,"type":"quantitative"},"text":{"field":"t"}}},
  {"data":{"values":[{"letter":"J"}]},"mark":{"type":"point","shape":"square","size":420,"filled":true,"color":"black","opacity":1,"xOffset":-23.3,"yOffset":1},"encoding":{"x":{"datum":"3 months","type":"ordinal"},"y":{"datum":734,"type":"quantitative"}}},
  {"data":{"values":[{"letter":"J"}]},"mark":{"type":"text","color":"white","fontSize":18,"align":"center","baseline":"middle","xOffset":-23.3,"yOffset":2},"encoding":{"x":{"datum":"3 months","type":"ordinal"},"y":{"datum":734,"type":"quantitative"},"text":{"field":"letter"}}}
 ]},
{"width":147,"height":133,
 "data":{"name":"boxes"},"transform":[{"filter":"datum.panel == 'K'"}],
 "encoding":{"x":{"field":"month","type":"ordinal","title":null,"scale":{"domain":["3 months","6 months","9 months"],"paddingInner":0,"paddingOuter":0}}},
 "layer":[
  {"mark":{"type":"rule","strokeDash":[3,2],"color":"black"},"encoding":{"xOffset":{"field":"group","type":"nominal","scale":{"domain":["Normal","GRMD"],"paddingInner":0,"paddingOuter":0.263}},"y":{"field":"min","type":"quantitative","title":null,"scale":{"domain":[264,1064],"nice":false,"zero":false},"axis":{"values":[400,600,800,1000],"tickCount":20,"labelOverlap":false}},"y2":{"field":"max"}}},
  {"mark":{"type":"tick","size":7,"thickness":1.3,"color":"black","opacity":1},"encoding":{"xOffset":{"field":"group","type":"nominal"},"y":{"field":"min","type":"quantitative","title":null}}},
  {"mark":{"type":"tick","size":7,"thickness":1.3,"color":"black","opacity":1},"encoding":{"xOffset":{"field":"group","type":"nominal"},"y":{"field":"max","type":"quantitative","title":null}}},
  {"mark":{"type":"bar","width":12,"stroke":"black","strokeWidth":1},"encoding":{"xOffset":{"field":"group","type":"nominal"},"y":{"field":"q1","type":"quantitative","title":null},"y2":{"field":"q3"},"fill":{"field":"group","type":"nominal","title":null,"scale":{"domain":["Normal","GRMD"],"range":["white","#a4a4a4"]},"legend":{"title":null}}}},
  {"mark":{"type":"tick","size":12,"thickness":3,"color":"black","opacity":1},"encoding":{"xOffset":{"field":"group","type":"nominal"},"y":{"field":"med","type":"quantitative","title":null}}},
  {"data":{"name":"outliers"},"transform":[{"filter":"datum.panel == 'K'"}],"mark":{"type":"point","filled":true,"size":8,"color":"black","opacity":1},"encoding":{"xOffset":{"field":"group","type":"nominal"},"y":{"field":"v","type":"quantitative","title":null}}},
  {"data":{"name":"stars"},"transform":[{"filter":"datum.panel == 'K'"}],"mark":{"type":"point","shape":"M-1,0L1,0M0,-1L0,1M-0.7,-0.7L0.7,0.7M-0.7,0.7L0.7,-0.7","filled":false,"size":110,"stroke":"black","strokeWidth":1.3,"opacity":1},"encoding":{"y":{"field":"v","type":"quantitative","title":null}}},
  {"data":{"values":[{"t":"Water map (ST)"}]},"mark":{"type":"text","fontWeight":"bold","fontSize":9.5,"color":"#222","baseline":"middle","yOffset":-10},"encoding":{"x":{"datum":"6 months","type":"ordinal"},"y":{"datum":1064,"type":"quantitative"},"text":{"field":"t"}}},
  {"data":{"values":[{"letter":"K"}]},"mark":{"type":"point","shape":"square","size":420,"filled":true,"color":"black","opacity":1,"xOffset":-25.5,"yOffset":0},"encoding":{"x":{"datum":"3 months","type":"ordinal"},"y":{"datum":1064,"type":"quantitative"}}},
  {"data":{"values":[{"letter":"K"}]},"mark":{"type":"text","color":"white","fontSize":18,"align":"center","baseline":"middle","xOffset":-25.5,"yOffset":1},"encoding":{"x":{"datum":"3 months","type":"ordinal"},"y":{"datum":1064,"type":"quantitative"},"text":{"field":"letter"}}}
 ]},
{"width":151,"height":133,
 "data":{"name":"boxes"},"transform":[{"filter":"datum.panel == 'L'"}],
 "encoding":{"x":{"field":"month","type":"ordinal","title":null,"scale":{"domain":["3 months","6 months","9 months"],"paddingInner":0,"paddingOuter":0}}},
 "layer":[
  {"mark":{"type":"rule","strokeDash":[3,2],"color":"black"},"encoding":{"xOffset":{"field":"group","type":"nominal","scale":{"domain":["Normal","GRMD"],"paddingInner":0,"paddingOuter":0.263}},"y":{"field":"min","type":"quantitative","title":null,"scale":{"domain":[215,896],"nice":false,"zero":false},"axis":{"values":[300,400,500,600,700,800],"tickCount":20,"labelOverlap":false,"labelExpr":"(datum.value == 400 || datum.value == 600 || datum.value == 800) ? '' : datum.label"}},"y2":{"field":"max"}}},
  {"mark":{"type":"tick","size":7,"thickness":1.3,"color":"black","opacity":1},"encoding":{"xOffset":{"field":"group","type":"nominal"},"y":{"field":"min","type":"quantitative","title":null}}},
  {"mark":{"type":"tick","size":7,"thickness":1.3,"color":"black","opacity":1},"encoding":{"xOffset":{"field":"group","type":"nominal"},"y":{"field":"max","type":"quantitative","title":null}}},
  {"mark":{"type":"bar","width":12,"stroke":"black","strokeWidth":1},"encoding":{"xOffset":{"field":"group","type":"nominal"},"y":{"field":"q1","type":"quantitative","title":null},"y2":{"field":"q3"},"fill":{"field":"group","type":"nominal","title":null,"scale":{"domain":["Normal","GRMD"],"range":["white","#a4a4a4"]},"legend":{"title":null}}}},
  {"mark":{"type":"tick","size":12,"thickness":3,"color":"black","opacity":1},"encoding":{"xOffset":{"field":"group","type":"nominal"},"y":{"field":"med","type":"quantitative","title":null}}},
  {"data":{"name":"outliers"},"transform":[{"filter":"datum.panel == 'L'"}],"mark":{"type":"point","filled":true,"size":8,"color":"black","opacity":1},"encoding":{"xOffset":{"field":"group","type":"nominal"},"y":{"field":"v","type":"quantitative","title":null}}},
  {"data":{"name":"stars"},"transform":[{"filter":"datum.panel == 'L'"}],"mark":{"type":"point","shape":"M-1,0L1,0M0,-1L0,1M-0.7,-0.7L0.7,0.7M-0.7,0.7L0.7,-0.7","filled":false,"size":110,"stroke":"black","strokeWidth":1.3,"opacity":1},"encoding":{"y":{"field":"v","type":"quantitative","title":null}}},
  {"data":{"values":[{"t":"Water map (all)"}]},"mark":{"type":"text","fontWeight":"bold","fontSize":9.5,"color":"#222","baseline":"middle","yOffset":-10},"encoding":{"x":{"datum":"6 months","type":"ordinal"},"y":{"datum":896,"type":"quantitative"},"text":{"field":"t"}}},
  {"data":{"values":[{"letter":"L"}]},"mark":{"type":"point","shape":"square","size":420,"filled":true,"color":"black","opacity":1,"xOffset":-27.2,"yOffset":1},"encoding":{"x":{"datum":"3 months","type":"ordinal"},"y":{"datum":896,"type":"quantitative"}}},
  {"data":{"values":[{"letter":"L"}]},"mark":{"type":"text","color":"white","fontSize":18,"align":"center","baseline":"middle","xOffset":-27.2,"yOffset":2},"encoding":{"x":{"datum":"3 months","type":"ordinal"},"y":{"datum":896,"type":"quantitative"},"text":{"field":"letter"}}}
 ]}
]
}
